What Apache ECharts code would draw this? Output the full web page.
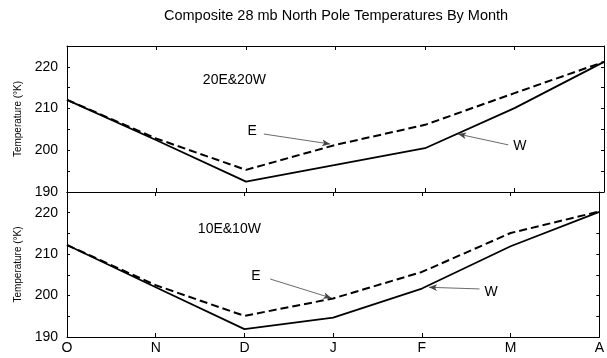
<!DOCTYPE html>
<html>
<head>
<meta charset="utf-8">
<script src="https://cdn.jsdelivr.net/npm/echarts@6/dist/echarts.min.js"></script>
<style>html,body{margin:0;padding:0;background:#fff}#c{width:607px;height:358px}</style>
</head>
<body>
<div id="c"></div>
<script>
// ---- data ----
var months = ['O', 'N', 'D', 'J', 'F', 'M', 'A'];
var panelNames = ['20E&20W', '10E&10W'];
var top20W = [212.1, 202.4, 192.5, 196.5, 200.5, 210.1, 221.2];
var top20E = [212.1, 202.8, 195.3, 201.3, 206.1, 213.7, 221.2];
var bot10W = [212.2, 202.0, 191.9, 194.7, 201.7, 211.9, 220.2];
var bot10E = [212.2, 202.5, 195.1, 199.3, 205.7, 215.1, 220.3];
var yMin = 190, yMax = 225;
// annotation anchors in data space [x index, temperature]
var topNameAt = [1.87, 216.9];
var botNameAt = [1.83, 216.0];
var topEArrow = [[2.20, 203.9], [2.94, 201.5]];
var topWArrow = [[4.93, 201.3], [4.37, 203.9]];
var botEArrow = [[2.29, 204.0], [2.98, 199.4]];
var botWArrow = [[4.65, 201.6], [4.08, 202.0]];
var topELabel = [2.07, 204.5];
var topWLabel = [5.06, 201.0];
var botELabel = [2.13, 204.7];
var botWLabel = [4.78, 200.8];

function pairs(arr) { return arr.map(function (v, i) { return [i, v]; }); }

var FONT = 'Liberation Sans, Arial, Helvetica, sans-serif';
var grids = [
  { left: 67, right: 3, top: 46, height: 146 },
  { left: 67, right: 3, top: 192, height: 145 }
];

var xAxes = [], yAxes = [];
for (var g = 0; g < 2; g++) {
  var common = {
    type: 'value', gridIndex: g, min: 0, max: 6, interval: 1,
    axisLine: { show: true, onZero: false, lineStyle: { color: '#000', width: 1 } },
    axisTick: { show: true, inside: true, length: 4, lineStyle: { color: '#000' } },
    splitLine: { show: false }
  };
  xAxes.push(Object.assign({}, common, {
    position: 'bottom',
    axisLabel: {
      show: g === 1, margin: 4, color: '#000', fontSize: 14, fontFamily: FONT,
      formatter: function (v) { return months[v] || ''; }
    }
  }));
  xAxes.push(Object.assign({}, common, { position: 'top', axisLabel: { show: false } }));
  var ycommon = {
    type: 'value', gridIndex: g, min: yMin, max: yMax, interval: 5,
    axisLine: { show: true, onZero: false, lineStyle: { color: '#000', width: 1 } },
    axisTick: { show: true, inside: true, length: 3, lineStyle: { color: '#000' } },
    splitLine: { show: false }
  };
  yAxes.push(Object.assign({}, ycommon, {
    position: 'left',
    name: 'Temperature (°K)', nameLocation: 'middle', nameGap: 44,
    nameTextStyle: { color: '#000', fontSize: 10, fontFamily: FONT },
    axisLabel: {
      margin: 9, color: '#000', fontSize: 14, fontFamily: FONT,
      formatter: function (v) { return (v % 10 === 0 && v < yMax) ? String(v) : ''; }
    }
  }));
  yAxes.push(Object.assign({}, ycommon, { position: 'right', axisLabel: { show: false } }));
}

var arrowStyle = { color: '#444', width: 0.8, type: 'solid' };
function arrowLine(a) {
  return {
    symbol: ['none', 'arrow'], symbolSize: [5, 8], silent: true, animation: false,
    lineStyle: arrowStyle, label: { show: false },
    data: [[{ coord: a[0] }, { coord: a[1] }]]
  };
}
function textPoints(items) {
  return {
    symbol: 'circle', symbolSize: 0, silent: true, animation: false,
    data: items.map(function (it) {
      return {
        coord: it[0],
        label: { show: true, position: 'inside', formatter: it[1], color: '#000', fontSize: 14, fontFamily: FONT }
      };
    })
  };
}

function lineSeries(data, xi, yi, dashed, extra) {
  var s = {
    type: 'line', xAxisIndex: xi, yAxisIndex: yi, data: pairs(data),
    symbol: 'none', animation: false,
    lineStyle: { color: '#000', width: dashed ? 2 : 1.8, type: dashed ? [8, 4] : 'solid' }
  };
  return Object.assign(s, extra || {});
}

var option = {
  backgroundColor: '#fff',
  title: {
    text: 'Composite 28 mb North Pole Temperatures By Month',
    left: 159, top: 3,
    textStyle: { color: '#000', fontSize: 14.5, fontWeight: 'normal', fontFamily: FONT }
  },
  grid: grids,
  xAxis: xAxes,
  yAxis: yAxes,
  series: [
    lineSeries(top20W, 0, 0, false, {
      markLine: arrowLine(topWArrow),
      markPoint: textPoints([[topNameAt, panelNames[0]], [topWLabel, 'W']])
    }),
    lineSeries(top20E, 0, 0, true, {
      markLine: arrowLine(topEArrow),
      markPoint: textPoints([[topELabel, 'E']])
    }),
    lineSeries(bot10W, 2, 2, false, {
      markLine: arrowLine(botWArrow),
      markPoint: textPoints([[botNameAt, panelNames[1]], [botWLabel, 'W']])
    }),
    lineSeries(bot10E, 2, 2, true, {
      markLine: arrowLine(botEArrow),
      markPoint: textPoints([[botELabel, 'E']])
    })
  ]
};
var chart = echarts.init(document.getElementById('c'), null, { renderer: 'canvas' });
chart.setOption(option);
</script>
</body>
</html>
